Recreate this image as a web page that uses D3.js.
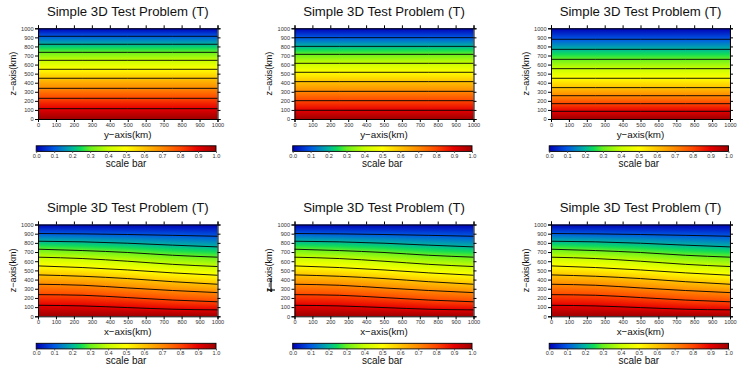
<!DOCTYPE html>
<html><head><meta charset="utf-8">
<script src="https://cdn.jsdelivr.net/npm/d3@7"></script>
<style>
html,body{margin:0;padding:0;background:#fff;}
svg{display:block;font-family:"Liberation Sans",Arial,sans-serif;}
</style></head>
<body>
<svg id="chart" width="749" height="374"></svg>
<script>
// ---------------- data ----------------
const chartTitle = "Simple 3D Test Problem (T)";
const contourLevels = [0.1, 0.2, 0.3, 0.4, 0.5, 0.6, 0.7, 0.8, 0.9];
const axisTicks = [0, 100, 200, 300, 400, 500, 600, 700, 800, 900, 1000];
const scaleTicks = [0.0, 0.1, 0.2, 0.3, 0.4, 0.5, 0.6, 0.7, 0.8, 0.9, 1.0];
// boundary values of T at z = 1000 (top) and z = 0 (bottom)
const boundaryT = {top: 0.0, bottom: 1.0};
// horizontal positions (km) where the contour depth was read
const sampleX = [0, 250, 500, 750, 1000];
// top row: contour depth z (km) for each level, flat across y
const contoursTopLeft = [912, 824, 735, 647, 548, 449, 338, 228, 114];
const contoursTopMiddle = [897, 801, 713, 614, 515, 412, 305, 202, 96];
const contoursTopRight = [879, 768, 658, 555, 449, 346, 257, 169, 85];
// bottom row: contour depth z (km) for each level at sampleX
const contoursBottom = [
  [902, 898, 891, 882, 872],
  [818, 811, 796, 775, 756],
  [731, 716, 695, 665, 644],
  [644, 629, 600, 566, 542],
  [549, 531, 505, 473, 447],
  [451, 436, 411, 377, 349],
  [349, 338, 309, 281, 258],
  [236, 229, 204, 177, 158],
  [120, 113, 95, 77, 70]
];
// colour map stops
const cmapStops = [0.0, 0.1, 0.2, 0.25, 0.3, 0.4, 0.5, 0.6, 0.7, 0.8, 0.9, 1.0];
const cmapColors = ["#0000b4", "#0058e4", "#00b4a0", "#10dc58", "#68f020", "#c8ff00",
                    "#ffff00", "#ffc400", "#ff8a00", "#ff4800", "#e60000", "#a00000"];

// --------------- layout ----------------
const colX = [[38, 217.5], [294.5, 473.5], [551, 730]];
const rowY = [[28.3, 119], [224.5, 316.3]];
const panels = [
  {col:0,row:0,xlabel:"y\u2212axis(km)",flat:contoursTopLeft},
  {col:1,row:0,xlabel:"y\u2212axis(km)",flat:contoursTopMiddle},
  {col:2,row:0,xlabel:"y\u2212axis(km)",flat:contoursTopRight},
  {col:0,row:1,xlabel:"x\u2212axis(km)",grid:contoursBottom},
  {col:1,row:1,xlabel:"x\u2212axis(km)",grid:contoursBottom,mark:true},
  {col:2,row:1,xlabel:"x\u2212axis(km)",grid:contoursBottom}
];

const color = d3.scaleLinear().domain(cmapStops).range(cmapColors)
  .interpolate(d3.interpolateRgb).clamp(true);

const svg = d3.select("#chart");
svg.append("rect").attr("width",749).attr("height",374).attr("fill","#fff");

panels.forEach(p => {
  const [x0, x1] = colX[p.col];
  const [y0, y1] = rowY[p.row];
  const xs = d3.scaleLinear().domain([0, 1000]).range([x0, x1]);
  const zs = d3.scaleLinear().domain([0, 1000]).range([y1, y0]);
  // contour lines as arrays of [x, z]
  const lines = contourLevels.map((lv, i) => {
    if (p.flat) return sampleX.map(x => [x, p.flat[i]]);
    return sampleX.map((x, j) => [x, p.grid[i][j]]);
  });
  // raster fill
  const W = Math.round(x1 - x0), H = Math.round(y1 - y0);
  const cv = document.createElement("canvas");
  cv.width = W; cv.height = H;
  const ctx = cv.getContext("2d");
  const img = ctx.createImageData(W, H);
  for (let px = 0; px < W; px++) {
    const xv = xs.invert(x0 + px + 0.5);
    const zl = lines.map(l => {
      let k = 0;
      while (k < l.length - 2 && xv > l[k + 1][0]) k++;
      const t = (xv - l[k][0]) / (l[k + 1][0] - l[k][0]);
      return l[k][1] + (l[k + 1][1] - l[k][1]) * t;
    });
    const zk = [1000, ...zl, 0];
    const tk = [boundaryT.top, ...contourLevels, boundaryT.bottom];
    const f = d3.scaleLinear().domain(zk.slice().reverse()).range(tk.slice().reverse());
    for (let py = 0; py < H; py++) {
      const zv = zs.invert(y0 + py + 0.5);
      const c = d3.rgb(color(f(zv)));
      const o = (py * W + px) * 4;
      img.data[o] = c.r; img.data[o + 1] = c.g; img.data[o + 2] = c.b; img.data[o + 3] = 255;
    }
  }
  ctx.putImageData(img, 0, 0);
  const g = svg.append("g");
  g.append("image").attr("x", x0).attr("y", y0).attr("width", x1 - x0).attr("height", y1 - y0)
    .attr("preserveAspectRatio", "none").attr("href", cv.toDataURL());

  const line = d3.line().x(d => xs(d[0])).y(d => zs(d[1])).curve(d3.curveMonotoneX);
  g.selectAll("path.contour").data(lines).join("path").attr("class", "contour")
    .attr("d", line).attr("fill", "none").attr("stroke", "#000").attr("stroke-width", 0.9);

  // axes (ticks outward on all four sides)
  const fs = 5.6;
  const fmt = d3.format("d");
  const axL = d3.axisLeft(zs).tickValues(axisTicks).tickSize(3).tickPadding(1.5).tickFormat(fmt);
  const axR = d3.axisRight(zs).tickValues(axisTicks).tickSize(3).tickFormat("");
  const axB = d3.axisBottom(xs).tickValues(axisTicks).tickSize(3).tickPadding(1).tickFormat(fmt);
  const axT = d3.axisTop(xs).tickValues(axisTicks).tickSize(3).tickFormat("");
  [[axL, `translate(${x0},0)`], [axR, `translate(${x1},0)`],
   [axB, `translate(0,${y1})`], [axT, `translate(0,${y0})`]].forEach(([ax, tr]) => {
    const a = g.append("g").attr("transform", tr).call(ax);
    a.select(".domain").attr("stroke", "#000").attr("stroke-width", 1);
    a.selectAll(".tick line").attr("stroke", "#000").attr("stroke-width", 1);
    a.selectAll("text").attr("font-size", fs).attr("fill", "#333")
      .attr("font-family", "Liberation Sans, Arial, sans-serif");
  });

  const cx = (x0 + x1) / 2;
  g.append("text").attr("x", cx).attr("y", y0 - 12.5).attr("text-anchor", "middle")
    .attr("font-size", 13.2).attr("fill", "#111").text(chartTitle);
  g.append("text").attr("x", cx).attr("y", y1 + 18.5).attr("text-anchor", "middle")
    .attr("font-size", 9.8).attr("fill", "#111").text(p.xlabel);
  g.append("text").attr("transform", `translate(${x0 - 22.5},${(y0 + y1) / 2}) rotate(-90)`)
    .attr("text-anchor", "middle").attr("font-size", 9).attr("fill", "#111").text("z\u2212axis(km)");
  if (p.mark) {
    g.append("path").attr("d", d3.line()([[x0 - 23.5, y0 + 54.5], [x0 - 23.5, y0 + 67.5]]))
      .attr("stroke", "#000").attr("stroke-width", 1.1);
    g.append("path").attr("d", d3.line()([[x0 - 27.5, y0 + 65.5], [x0 - 19.5, y0 + 65.5]]))
      .attr("stroke", "#000").attr("stroke-width", 1.1);
  }

  // colour scale bar
  const bx0 = x0 - 1.8, bx1 = x1 - 1.5;
  const by0 = p.row === 0 ? 145.8 : 343.3, bh = 5.6;
  const cs = d3.scaleLinear().domain([0, 1]).range([bx0, bx1]);
  const gid = `grad${p.col}${p.row}`;
  const grad = svg.append("defs").append("linearGradient").attr("id", gid)
    .attr("x1", "0%").attr("x2", "100%").attr("y1", "0%").attr("y2", "0%");
  grad.selectAll("stop").data(cmapStops).join("stop")
    .attr("offset", d => (d * 100) + "%").attr("stop-color", d => color(d));
  g.append("rect").attr("x", bx0).attr("y", by0).attr("width", bx1 - bx0).attr("height", bh)
    .attr("fill", `url(#${gid})`).attr("stroke", "#000").attr("stroke-width", 0.9);
  const axC = d3.axisBottom(cs).tickValues(scaleTicks).tickSize(1.5).tickPadding(1)
    .tickFormat(d3.format(".1f"));
  const ac = g.append("g").attr("transform", `translate(0,${by0 + bh})`).call(axC);
  ac.select(".domain").remove();
  ac.selectAll(".tick line").attr("stroke", "#555");
  ac.selectAll("text").attr("font-size", 5.6).attr("fill", "#333")
    .attr("font-family", "Liberation Sans, Arial, sans-serif");
  g.append("text").attr("x", (bx0 + bx1) / 2).attr("y", by0 + bh + 15.3).attr("text-anchor", "middle")
    .attr("font-size", 10).attr("fill", "#111").text("scale bar");
});
</script>
</body></html>
